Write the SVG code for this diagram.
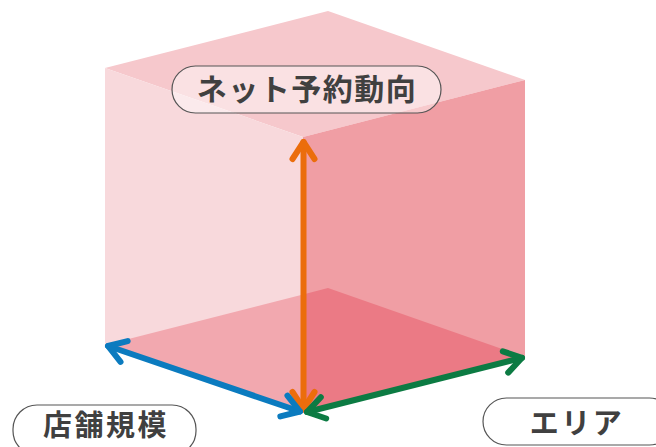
<svg xmlns="http://www.w3.org/2000/svg" width="656" height="447" viewBox="0 0 656 447">
<defs>
<style>
.lbl{font-family:"Noto Sans CJK JP","Noto Sans",sans-serif;font-weight:bold;font-size:30px;fill:#404040;text-anchor:middle;letter-spacing:1.5px}
.sm{font-size:29px;letter-spacing:2.5px}
.pill{stroke:#555;stroke-width:1.2}
.arr{fill:none;stroke-width:6;stroke-linecap:round;stroke-linejoin:round}
</style>
<marker id="mo" markerUnits="userSpaceOnUse" markerWidth="50" markerHeight="50" viewBox="-25 -25 50 50" refX="0" refY="0" orient="auto-start-reverse"><path d="M-17,-11 L0,0 L-17,11" fill="none" stroke="#eb6d0c" stroke-width="6" stroke-linecap="round" stroke-linejoin="round"/></marker>
<marker id="mb" markerUnits="userSpaceOnUse" markerWidth="50" markerHeight="50" viewBox="-25 -25 50 50" refX="0" refY="0" orient="auto-start-reverse"><path d="M-17,-11 L0,0 L-17,11" fill="none" stroke="#0b7bbf" stroke-width="6" stroke-linecap="round" stroke-linejoin="round"/></marker>
<marker id="mg" markerUnits="userSpaceOnUse" markerWidth="50" markerHeight="50" viewBox="-25 -25 50 50" refX="0" refY="0" orient="auto-start-reverse"><path d="M-17,-11 L0,0 L-17,11" fill="none" stroke="#0c7b43" stroke-width="6" stroke-linecap="round" stroke-linejoin="round"/></marker>
</defs>
<g id="cube">
<polygon points="328,11 525,80 303,137 105,68" fill="#f6c8cc"/>
<polygon points="105,68 303,137 303,413 105,345" fill="#f8d9dc"/>
<polygon points="303,137 525,80 525,357 303,413" fill="#f09ea4"/>
<polygon points="105,345 303,294.4 303,413" fill="#f2a8af"/>
<polygon points="303,294.4 328,288 525,357 303,413" fill="#eb7a85"/>
</g>
<g id="node-net">
<rect class="pill" x="172" y="66" width="269" height="47" rx="23.5" fill="#ffffff" fill-opacity="0.45"/>
<text class="lbl" x="307" y="100">ネット予約動向</text>
</g>
<g id="connectors">
<line class="arr" x1="303.5" y1="142" x2="303.5" y2="409" stroke="#eb6d0c" marker-start="url(#mo)" marker-end="url(#mo)"/>
<line class="arr" x1="108" y1="346" x2="300" y2="411.5" stroke="#0b7bbf" marker-start="url(#mb)" marker-end="url(#mb)"/>
<line class="arr" x1="307" y1="412" x2="522" y2="357.8" stroke="#0c7b43" marker-start="url(#mg)" marker-end="url(#mg)"/>
</g>
<g id="node-store">
<rect class="pill" x="13" y="405" width="183" height="50" rx="24" fill="#ffffff"/>
<text class="lbl sm" x="106" y="436">店舗規模</text>
</g>
<g id="node-area">
<rect class="pill" x="483" y="398" width="190" height="47" rx="23.5" fill="#ffffff"/>
<text class="lbl sm" x="577" y="434">エリア</text>
</g>
</svg>
